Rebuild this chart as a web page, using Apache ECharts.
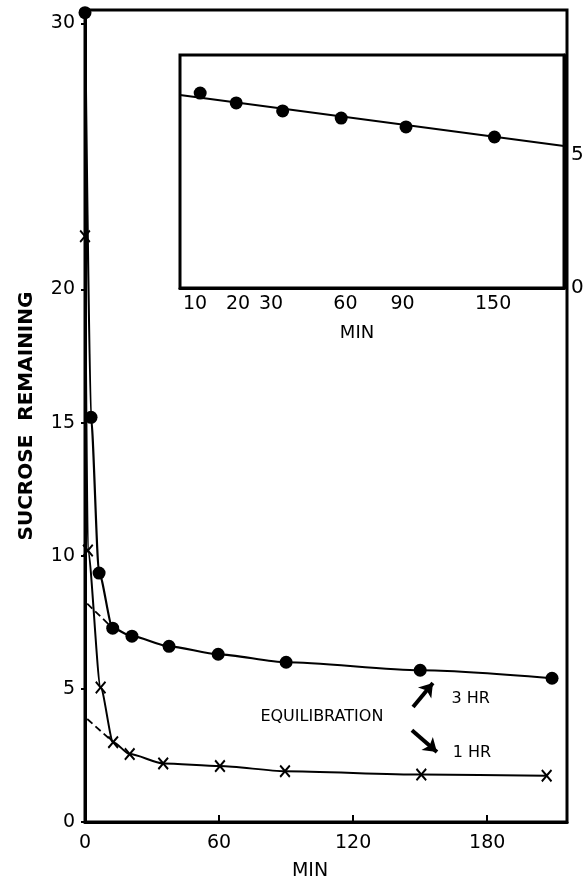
<!DOCTYPE html>
<html>
<head>
<meta charset="utf-8">
<script src="https://cdn.jsdelivr.net/npm/echarts@6/dist/echarts.min.js"></script>
<style>
  html, body { margin: 0; padding: 0; background: #fff; }
  #main { width: 585px; height: 888px; }
</style>
</head>
<body>
<div id="main"></div>
<script>
// 3 hr equilibration (dots)
var dotMin = [0, 2.7, 6.3, 12.4, 21, 37.6, 59.6, 90, 150, 209];
var dotVal = [30.4, 15.2, 9.35, 7.28, 6.98, 6.6, 6.3, 6.0, 5.7, 5.4];
// 1 hr equilibration (crosses)
var crossMin = [0, 1.3, 7, 12.6, 20, 35, 60.4, 89.5, 150.5, 206.6];
var crossVal = [22.0, 10.2, 5.05, 3.0, 2.55, 2.2, 2.1, 1.91, 1.78, 1.74];
// dashed extrapolations
var dashUpper = [[1, 8.2], [12.4, 7.28]];
var dashLower = [[1, 3.87], [12.6, 3.0]];
// inset (sqrt time axis)
var insetMin = [11, 19.5, 34, 58, 92, 151, 208];
var insetVal = [7.32, 6.95, 6.65, 6.38, 6.05, 5.67, 5.33];
var insetFit = [[7.3, 7.25], [207.6, 5.33]];
var insetTicks = [10, 20, 30, 60, 90, 150];
var mainXTicks = [0, 60, 120, 180];
var mainYTicks = [0, 5, 10, 15, 20, 30];
var insetYTicks = [0, 5];

var font = 'DejaVu Sans';
var crossSymbol = 'path://M0,1.2L1.2,0L5,3.8L8.8,0L10,1.2L6.2,5L10,8.8L8.8,10L5,6.2L1.2,10L0,8.8L3.8,5Z';

function pairs(xs, ys) {
    return xs.map(function (x, i) { return [x, ys[i]]; });
}
function sq(list) {
    return list.map(function (p) { return [Math.sqrt(p[0]), p[1]]; });
}

var chart = echarts.init(document.getElementById('main'));
var option = {
    animation: false,
    backgroundColor: '#fff',
    grid: [
        {left: 85, right: 18, top: 10, bottom: 66, show: true, borderColor: '#000', borderWidth: 3,
            containLabel: false, outerBoundsMode: 'none'},
        {left: 180, right: 21, top: 55, bottom: 600, show: true, borderColor: '#000', borderWidth: 3,
            backgroundColor: '#fff', containLabel: false, outerBoundsMode: 'none', z: 5}
    ],
    xAxis: [
        {
            gridIndex: 0, type: 'value', min: 0, max: 215.7,
            name: 'MIN', nameLocation: 'middle', nameGap: 40,
            nameTextStyle: {fontFamily: font, fontSize: 19, color: '#000', padding: [0, 32, 0, 0]},
            axisLine: {show: true, lineStyle: {color: '#000', width: 3}},
            axisTick: {show: true, inside: true, length: 7, customValues: mainXTicks, lineStyle: {color: '#000', width: 2}},
            axisLabel: {customValues: mainXTicks, margin: 12, fontFamily: font, fontSize: 19, color: '#000'},
            splitLine: {show: false}
        },
        {
            gridIndex: 1, type: 'value', min: Math.sqrt(7.3), max: Math.sqrt(207.6),
            name: 'MIN', nameLocation: 'middle', nameGap: 36,
            nameTextStyle: {fontFamily: font, fontSize: 18, color: '#000', padding: [0, 30, 0, 0]},
            axisLine: {show: true, lineStyle: {color: '#000', width: 3}},
            axisTick: {show: true, inside: true, length: 6, customValues: insetTicks.map(Math.sqrt), lineStyle: {color: '#000', width: 1.5}},
            axisLabel: {
                customValues: insetTicks.map(Math.sqrt), margin: 7, fontFamily: font, fontSize: 19, color: '#000',
                formatter: function (v) { return Math.round(v * v); }
            },
            splitLine: {show: false}
        }
    ],
    yAxis: [
        {
            gridIndex: 0, type: 'value', min: 0, max: 30.5,
            name: 'SUCROSE  REMAINING', nameLocation: 'middle', nameGap: 48,
            nameTextStyle: {fontFamily: font, fontSize: 20, fontWeight: 'bold', color: '#000'},
            axisLine: {show: true, lineStyle: {color: '#000', width: 3}},
            axisTick: {show: true, inside: false, length: 4, customValues: mainYTicks, lineStyle: {color: '#000', width: 2}},
            axisLabel: {customValues: mainYTicks, margin: 10, fontFamily: font, fontSize: 19, color: '#000'},
            splitLine: {show: false}
        },
        {
            gridIndex: 1, type: 'value', min: 0, max: 8.75, position: 'right',
            axisLine: {show: true, lineStyle: {color: '#000', width: 3}},
            axisTick: {show: true, inside: false, length: 4, customValues: insetYTicks, lineStyle: {color: '#000', width: 2}},
            axisLabel: {customValues: insetYTicks, margin: 7, fontFamily: font, fontSize: 20, color: '#000'},
            splitLine: {show: false}
        }
    ],
    series: [
        {
            name: '3 HR', type: 'line', xAxisIndex: 0, yAxisIndex: 0,
            data: pairs(dotMin, dotVal), smooth: 0.25, smoothMonotone: 'x',
            symbol: 'circle', symbolSize: 13,
            lineStyle: {color: '#000', width: 2.2}, itemStyle: {color: '#000', opacity: 1},
            markLine: {
                silent: true, symbol: ['none', 'arrow'], symbolSize: 13,
                label: {show: false},
                lineStyle: {color: '#000', width: 4, type: 'solid'},
                data: [
                    [{coord: [146.8, 4.32]}, {coord: [155.7, 5.22]}],
                    [{coord: [146.3, 3.45]}, {coord: [157.5, 2.63]}]
                ]
            }
        },
        {
            name: '1 HR', type: 'line', xAxisIndex: 0, yAxisIndex: 0,
            data: pairs(crossMin, crossVal), smooth: 0.25, smoothMonotone: 'x',
            symbol: crossSymbol, symbolSize: [11, 13],
            lineStyle: {color: '#000', width: 2}, itemStyle: {color: '#000', opacity: 1}
        },
        {
            type: 'line', xAxisIndex: 0, yAxisIndex: 0, data: dashUpper, symbol: 'none',
            lineStyle: {color: '#000', width: 1.8, type: [7, 4]}
        },
        {
            type: 'line', xAxisIndex: 0, yAxisIndex: 0, data: dashLower, symbol: 'none',
            lineStyle: {color: '#000', width: 1.8, type: [7, 4]}
        },
        {
            type: 'line', xAxisIndex: 1, yAxisIndex: 1, data: sq(insetFit), symbol: 'none', z: 6,
            lineStyle: {color: '#000', width: 2}
        },
        {
            type: 'scatter', xAxisIndex: 1, yAxisIndex: 1, data: sq(pairs(insetMin, insetVal)), z: 7,
            symbol: 'circle', symbolSize: 13, itemStyle: {color: '#000', opacity: 1}
        }
    ]
};
chart.setOption(option);

// text notes placed in data units of the main plot
var notes = [
    {text: 'EQUILIBRATION', at: [106, 3.94], align: 'center'},
    {text: '3 HR', at: [164, 4.62], align: 'left'},
    {text: '1 HR', at: [164.6, 2.59], align: 'left'}
];
chart.setOption({
    graphic: notes.map(function (n) {
        var p = chart.convertToPixel({gridIndex: 0}, n.at);
        return {
            type: 'text', x: p[0], y: p[1], z: 10,
            style: {text: n.text, fill: '#000', font: '16px "' + font + '"', align: n.align, verticalAlign: 'middle'}
        };
    })
});
</script>
</body>
</html>
